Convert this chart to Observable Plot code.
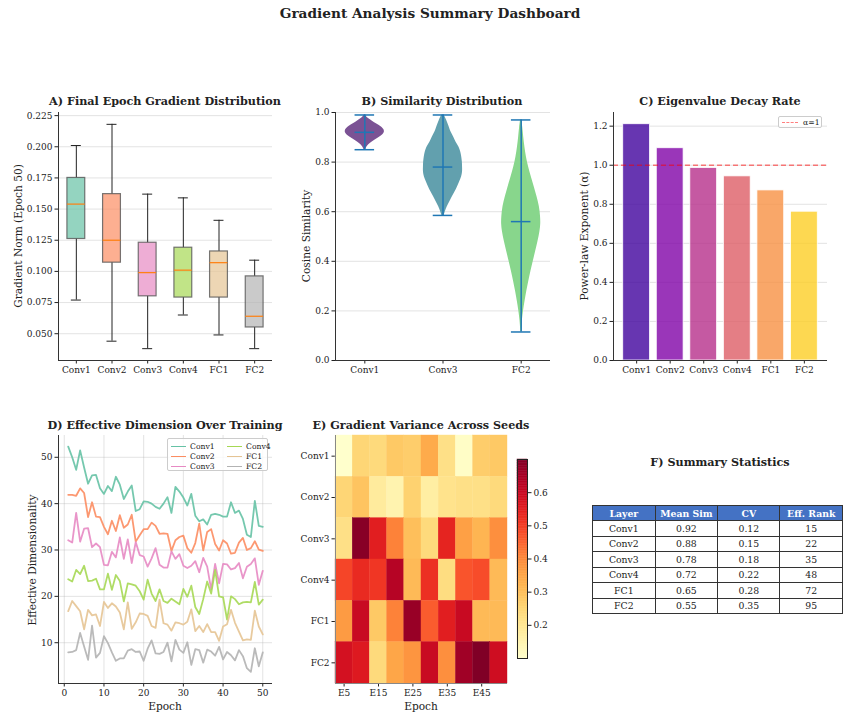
<!DOCTYPE html>
<html><head><meta charset="utf-8">
<script src="https://cdn.jsdelivr.net/npm/d3@7"></script>
<script src="https://cdn.jsdelivr.net/npm/@observablehq/plot@0.6"></script>
<style>
body{margin:0;background:#fff;overflow:hidden}
#fig{position:relative;width:843px;height:713px;overflow:hidden;font-family:"DejaVu Serif",serif;color:#222;background:#fff}
#fig svg{position:absolute;overflow:visible}
.lbl{position:absolute;white-space:nowrap;line-height:1;transform:translate(-50%,-50%)}
.rot{transform:translate(-50%,-50%) rotate(-90deg)}
.ttl{font-weight:bold;font-size:11.2px}
.axl{font-size:10.6px}
.legend{position:absolute;background:rgba(255,255,255,0.8);border:1px solid #ccc;border-radius:2px;font-size:7.7px;box-sizing:border-box}
.li{position:absolute;white-space:nowrap;line-height:1}
.sw{position:absolute;height:0}
table{position:absolute;border-collapse:collapse;font-size:9.3px;table-layout:fixed}
td,th{border:1.2px solid #333;width:64px;height:15.5px;padding:0;text-align:center;box-sizing:border-box}
th{background:#4472c4;color:#fff;font-weight:bold;height:15px}
</style></head><body><div id="fig"></div>
<script>
// ---------- data ----------
const layers = ["Conv1","Conv2","Conv3","Conv4","FC1","FC2"];
// A) final epoch gradient distribution (box stats)
const boxLow  = [0.077,0.044,0.038,0.065,0.049,0.038];
const boxQ1   = [0.126,0.107,0.080,0.079,0.079,0.055];
const boxMed  = [0.154,0.125,0.099,0.101,0.107,0.064];
const boxQ3   = [0.175,0.162,0.123,0.119,0.116,0.096];
const boxHigh = [0.201,0.218,0.162,0.159,0.141,0.109];
const gradTicks = [0.050,0.075,0.100,0.125,0.150,0.175,0.200,0.225];
// B) similarity violins
const violinLayers = ["Conv1","Conv3","FC2"];
const violinMin  = [0.85,0.585,0.115];
const violinMax  = [0.99,0.99,0.97];
const violinMean = [0.92,0.78,0.56];
const conv1Levels = [0.99,0.98,0.97,0.96,0.95,0.94,0.93,0.92,0.91,0.90,0.89,0.88,0.87,0.86,0.85];
const conv1Widths = [0.03,0.12,0.30,0.48,0.70,0.88,0.98,1.00,0.92,0.75,0.55,0.36,0.20,0.10,0.04];
const conv3Levels = [0.99,0.97,0.95,0.92,0.90,0.88,0.86,0.84,0.82,0.80,0.78,0.76,0.74,0.72,0.70,0.68,0.66,0.64,0.62,0.60,0.585];
const conv3Widths = [0.06,0.18,0.28,0.42,0.55,0.67,0.82,0.91,0.96,0.99,1.00,1.00,0.95,0.85,0.74,0.62,0.48,0.35,0.22,0.12,0.06];
const fc2Levels = [0.97,0.94,0.90,0.86,0.82,0.78,0.74,0.70,0.66,0.62,0.58,0.55,0.52,0.48,0.44,0.40,0.36,0.32,0.28,0.24,0.20,0.16,0.13,0.115];
const fc2Widths = [0.03,0.08,0.13,0.19,0.27,0.38,0.52,0.67,0.81,0.93,0.99,1.00,0.96,0.86,0.74,0.62,0.50,0.39,0.29,0.20,0.12,0.06,0.03,0.02];
const simTicks = [0.0,0.2,0.4,0.6,0.8,1.0];
// C) eigenvalue decay
const alphaValues = [1.21,1.087,0.986,0.943,0.871,0.762];
const alphaRef = [1.0];
const alphaTicks = [0.0,0.2,0.4,0.6,0.8,1.0,1.2];
// D) effective dimension over training
const epochs = d3.range(1, 51);
const conv1D = [52.3,50.0,47.3,51.5,47.8,44.3,46.1,46.2,43.3,42.1,43.8,42.7,45.8,44.1,41.0,42.6,43.9,38.4,38.8,40.5,40.4,40.0,39.3,38.9,40.0,41.4,38.0,43.6,42.6,41.3,39.6,42.1,37.4,36.2,36.6,35.5,37.6,37.8,37.6,37.2,37.2,40.3,38.0,38.5,36.7,33.3,32.8,40.6,35.2,35.0];
const conv2D = [41.9,41.9,41.7,43.3,42.3,37.1,40.3,37.2,37.1,35.0,33.4,36.3,34.1,37.5,34.8,35.5,37.6,31.8,33.2,34.5,34.5,35.9,35.2,33.5,33.6,33.5,29.8,32.1,32.8,33.1,30.4,29.4,31.5,35.7,29.9,33.9,34.5,31.3,29.9,32.1,31.4,29.2,29.4,31.6,32.6,30.0,30.4,31.9,30.1,29.8];
const conv3D = [32.1,31.6,38.0,31.8,34.6,34.7,30.6,31.4,30.6,26.8,26.7,29.6,28.4,32.7,28.1,32.3,27.2,31.7,28.9,28.6,26.4,28.2,30.4,26.8,26.2,26.2,29.7,28.1,29.1,26.6,26.1,26.6,27.6,25.2,28.3,26.4,21.5,27.0,22.8,27.0,26.9,25.8,26.1,27.2,23.9,26.4,27.0,28.2,22.5,25.5];
const conv4D = [23.7,23.2,25.7,24.8,26.6,23.3,23.4,23.8,21.5,21.5,24.9,21.4,24.6,23.3,18.9,22.8,22.6,22.3,21.1,19.3,23.6,20.6,19.0,21.5,19.0,18.6,19.5,18.9,18.3,21.6,19.9,22.3,17.7,16.2,19.4,23.2,20.6,25.7,20.0,19.8,15.0,20.0,19.4,18.3,18.7,18.8,18.7,23.1,18.2,19.3];
const fc1D = [16.8,19.0,17.9,16.8,12.9,17.1,15.9,16.1,13.6,18.8,17.5,18.5,17.8,16.5,12.9,18.7,13.0,14.4,16.3,16.2,15.8,13.6,13.2,19.3,14.2,13.9,12.6,14.4,14.2,13.9,14.5,17.2,12.5,13.6,12.3,14.0,12.3,12.3,10.4,13.5,14.0,17.1,14.3,12.4,10.5,10.7,10.6,16.9,13.5,11.8];
const fc2D = [7.9,8.0,8.4,12.1,9.2,6.3,13.7,6.8,7.8,11.4,9.9,7.9,6.1,6.6,6.6,8.3,8.6,8.0,8.1,6.1,8.7,10.5,7.7,7.6,8.0,10.0,6.0,10.6,8.5,7.8,10.1,5.2,8.6,8.4,5.7,8.5,8.1,7.2,9.1,6.4,8.0,7.3,6.2,8.4,7.1,4.5,3.7,8.8,4.9,7.9];
const epochTicks = [0,10,20,30,40,50];
const dimTicks = [10,20,30,40,50];
// E) gradient variance heatmap
const heatColumns = ["E5","E10","E15","E20","E25","E30","E35","E40","E45","E50"];
const heatTickLabels = ["E5","E15","E25","E35","E45"];
const conv1H = [0.10,0.25,0.24,0.28,0.27,0.34,0.22,0.11,0.27,0.28];
const conv2H = [0.25,0.29,0.18,0.15,0.26,0.17,0.21,0.22,0.22,0.24];
const conv3H = [0.22,0.69,0.55,0.41,0.30,0.24,0.54,0.36,0.32,0.39];
const conv4H = [0.49,0.53,0.51,0.63,0.31,0.52,0.23,0.47,0.48,0.31];
const fc1H   = [0.37,0.60,0.28,0.41,0.67,0.46,0.55,0.60,0.31,0.31];
const fc2H   = [0.58,0.56,0.24,0.35,0.38,0.60,0.39,0.66,0.70,0.59];
const cbarTicks = [0.2,0.3,0.4,0.5,0.6];
// F) summary table
const tableHeader = ["Layer","Mean Sim","CV","Eff. Rank"];
const meanSim = [0.92,0.88,0.78,0.72,0.65,0.55];
const cvValues = [0.12,0.15,0.18,0.22,0.28,0.35];
const effRank = [15,22,35,48,72,95];

// ---------- helpers ----------
const fig = document.getElementById("fig");
const base = {fontFamily:"DejaVu Serif", fontSize:"9px", color:"#222", background:"transparent"};
const gridC = {stroke:"#b0b0b0", strokeOpacity:0.35};
const spine = {stroke:"#333", strokeWidth:1};
function put(el, left, top){ el.style.left = left+"px"; el.style.top = top+"px"; fig.appendChild(el); return el; }
function label(text, x, y, cls){ const d=document.createElement("div"); d.className="lbl "+cls; d.textContent=text; return put(d,x,y); }
const set2 = ["#66c2a5","#fc8d62","#e78ac3","#a6d854","#e5c494","#b3b3b3"];

label("Gradient Analysis Summary Dashboard", 430, 13.5, "").style.cssText += "font-weight:bold;font-size:13.7px;";

// ---------- A ----------
const boxData = layers.map((l,i)=>({pos:i+1, lo:boxLow[i], q1:boxQ1[i], med:boxMed[i], q3:boxQ3[i], hi:boxHigh[i], c:set2[i]}));
const aY = [0.0285,0.2275], aX=[0.5,6.5];
put(Plot.plot({
  width:290, height:290, marginLeft:58, marginRight:18, marginTop:12, marginBottom:30, style:base,
  x:{domain:aX, ticks:[1,2,3,4,5,6], tickFormat:i=>layers[i-1], tickSize:3.5, tickPadding:2.5, label:null},
  y:{domain:aY, ticks:gradTicks, tickFormat:d3.format(".3f"), tickSize:3.5, tickPadding:2.5, label:null},
  color:{type:"identity"},
  marks:[
    Plot.gridY(gradTicks, gridC),
    Plot.ruleX(boxData,{x:"pos", y1:"lo", y2:"q1", stroke:"#222", strokeWidth:1}),
    Plot.ruleX(boxData,{x:"pos", y1:"q3", y2:"hi", stroke:"#222", strokeWidth:1}),
    Plot.ruleY(boxData,{y:"lo", x1:d=>d.pos-0.14, x2:d=>d.pos+0.14, stroke:"#222"}),
    Plot.ruleY(boxData,{y:"hi", x1:d=>d.pos-0.14, x2:d=>d.pos+0.14, stroke:"#222"}),
    Plot.rect(boxData,{x1:d=>d.pos-0.25, x2:d=>d.pos+0.25, y1:"q1", y2:"q3", fill:"c", fillOpacity:0.7, stroke:"#555", strokeOpacity:0.8, strokeWidth:1.2}),
    Plot.ruleY(boxData,{y:"med", x1:d=>d.pos-0.25, x2:d=>d.pos+0.25, stroke:"#ff7f0e", strokeWidth:1.2}),
    Plot.ruleX([aX[0]], spine), Plot.ruleY([aY[0]], spine)
  ]
}), 0, 100);
label("A) Final Epoch Gradient Distribution", 165, 102, "ttl");
label("Gradient Norm (Epoch 50)", 18, 236, "axl rot");

// ---------- B ----------
const violinShapes = [[conv1Levels,conv1Widths],[conv3Levels,conv3Widths],[fc2Levels,fc2Widths]];
const violinFill = ["#7b5294","#62a0ae","#88d68c"];
const bX=[0.625,3.375];
const violinMarks = violinShapes.map(([lv,wd],k)=>{
  const rows = lv.map((v,i)=>({v, w:wd[i]}));
  return Plot.areaX(rows,{y:"v", x1:d=>k+1-d.w*0.25, x2:d=>k+1+d.w*0.25, fill:violinFill[k], curve:"catmull-rom"});
});
const vStats = violinLayers.map((l,i)=>({pos:i+1, mn:violinMin[i], mx:violinMax[i], mean:violinMean[i]}));
const vl = {stroke:"#1f77b4", strokeWidth:1.5};
put(Plot.plot({
  width:270, height:290, marginLeft:45, marginRight:10, marginTop:12, marginBottom:30, style:base,
  x:{domain:bX, ticks:[1,2,3], tickFormat:i=>violinLayers[i-1], tickSize:3.5, tickPadding:2.5, label:null},
  y:{domain:[0,1], ticks:simTicks, tickFormat:d3.format(".1f"), tickSize:3.5, tickPadding:2.5, label:null},
  marks:[
    Plot.gridY(simTicks, gridC),
    ...violinMarks,
    Plot.ruleX(vStats,{x:"pos", y1:"mn", y2:"mx", ...vl}),
    Plot.ruleY(vStats,{y:"mn", x1:d=>d.pos-0.125, x2:d=>d.pos+0.125, ...vl}),
    Plot.ruleY(vStats,{y:"mx", x1:d=>d.pos-0.125, x2:d=>d.pos+0.125, ...vl}),
    Plot.ruleY(vStats,{y:"mean", x1:d=>d.pos-0.125, x2:d=>d.pos+0.125, ...vl}),
    Plot.ruleX([bX[0]], spine), Plot.ruleY([0], spine)
  ]
}), 290, 100);
label("B) Similarity Distribution", 442, 102, "ttl");
label("Cosine Similarity", 306, 236, "axl rot");

// ---------- C ----------
const plasmaT = [0.1,0.26,0.42,0.58,0.74,0.9];
const barData = layers.map((l,i)=>({pos:i, v:alphaValues[i], c:d3.interpolatePlasma(plasmaT[i])}));
const cX=[-0.69,5.69], cY=[0,1.27];
put(Plot.plot({
  width:283, height:290, marginLeft:53, marginRight:16, marginTop:12, marginBottom:30, style:base,
  x:{domain:cX, ticks:[0,1,2,3,4,5], tickFormat:i=>layers[i], tickSize:3.5, tickPadding:2.5, label:null},
  y:{domain:cY, ticks:alphaTicks, tickFormat:d3.format(".1f"), tickSize:3.5, tickPadding:2.5, label:null},
  color:{type:"identity"},
  marks:[
    Plot.gridY(alphaTicks, gridC),
    Plot.rect(barData,{x1:d=>d.pos-0.4, x2:d=>d.pos+0.4, y1:0, y2:"v", fill:"c", fillOpacity:0.8, stroke:"white", strokeWidth:0.8}),
    Plot.ruleY(alphaRef,{stroke:"red", strokeOpacity:0.5, strokeWidth:1.5, strokeDasharray:"5,3"}),
    Plot.ruleX([cX[0]], spine), Plot.ruleY([0], spine)
  ]
}), 560, 100);
label("C) Eigenvalue Decay Rate", 720, 102, "ttl");
label("Power-law Exponent (α)", 584, 236, "axl rot");
{
  const lg = document.createElement("div"); lg.className="legend";
  lg.style.width="44px"; lg.style.height="12px";
  lg.innerHTML = '<div class="sw" style="left:3px;top:5px;width:16px;border-top:1.5px dashed rgba(255,0,0,0.5)"></div><div class="li" style="left:24px;top:2px">α=1</div>';
  put(lg, 778, 116);
}

// ---------- D ----------
const seriesD = [conv1D,conv2D,conv3D,conv4D,fc1D,fc2D];
const lineRows = seriesD.flatMap((s,k)=>s.map((v,i)=>({layer:layers[k], epoch:epochs[i], v, c:set2[k]})));
const dX=[-1.45,52.45], dY=[1.2,54.7];
put(Plot.plot({
  width:290, height:290, marginLeft:58, marginRight:18, marginTop:15, marginBottom:27, style:base,
  x:{domain:dX, ticks:epochTicks, tickSize:3.5, tickPadding:2.5, label:null},
  y:{domain:dY, ticks:dimTicks, tickSize:3.5, tickPadding:2.5, label:null},
  color:{type:"identity"},
  marks:[
    Plot.gridX(epochTicks, gridC), Plot.gridY(dimTicks, gridC),
    Plot.line(lineRows,{x:"epoch", y:"v", z:"layer", stroke:"c", strokeWidth:1.8, strokeOpacity:0.9}),
    Plot.ruleX([dX[0]], spine), Plot.ruleY([dY[0]], spine)
  ]
}), 0, 420);
label("D) Effective Dimension Over Training", 165, 426, "ttl");
label("Effective Dimensionality", 32, 560, "axl rot");
label("Epoch", 165, 706, "axl");
{
  const lg = document.createElement("div"); lg.className="legend";
  lg.style.width="101px"; lg.style.height="33px";
  let h="";
  layers.forEach((l,i)=>{
    const col = Math.floor(i/3), row = i%3;
    const lx = col? 59:3, ty = 3+row*10;
    h += `<div class="sw" style="left:${lx}px;top:${ty+4}px;width:15px;border-top:1.8px solid ${set2[i]}"></div><div class="li" style="left:${lx+19}px;top:${ty+0.5}px">${l}</div>`;
  });
  lg.innerHTML = h;
  put(lg, 167, 438);
}

// ---------- E ----------
const heatRows = [conv1H,conv2H,conv3H,conv4H,fc1H,fc2H];
const cells = heatRows.flatMap((row,r)=>row.map((v,c)=>({r,c,v})));
const vExt = d3.extent(cells, d=>d.v);
put(Plot.plot({
  width:230, height:290, marginLeft:45, marginRight:13, marginTop:15, marginBottom:27, style:base,
  x:{domain:[0,10], ticks:[0.5,2.5,4.5,6.5,8.5], tickFormat:(t,i)=>heatTickLabels[i], tickSize:3.5, tickPadding:2.5, label:null},
  y:{domain:[6,0], ticks:[0.5,1.5,2.5,3.5,4.5,5.5], tickFormat:(t,i)=>layers[i], tickSize:3.5, tickPadding:2.5, label:null},
  color:{type:"linear", scheme:"YlOrRd", domain:vExt},
  marks:[
    Plot.rect(cells,{x1:"c", x2:d=>d.c+1, y1:"r", y2:d=>d.r+1, fill:"v", stroke:"v", strokeWidth:0.4}),
    Plot.ruleX([0],{stroke:"#888", strokeWidth:1}), Plot.ruleY([6],{stroke:"#888", strokeWidth:1})
  ]
}), 290, 420);
label("E) Gradient Variance Across Seeds", 421, 426, "ttl");
label("Epoch", 421, 706, "axl");
// colorbar
const nRamp = 120;
const ramp = d3.range(nRamp).map(i=>({a: vExt[0]+(vExt[1]-vExt[0])*i/nRamp, b: vExt[0]+(vExt[1]-vExt[0])*(i+1)/nRamp}));
put(Plot.plot({
  width:50, height:220, marginLeft:7, marginRight:33, marginTop:9, marginBottom:12, style:base,
  x:{domain:[0,1], axis:null},
  y:{domain:vExt, axis:"right", ticks:cbarTicks, tickFormat:d3.format(".1f"), tickSize:3.5, tickPadding:2.5, label:null},
  color:{type:"linear", scheme:"YlOrRd", domain:vExt},
  marks:[
    Plot.rect(ramp,{x1:0, x2:1, y1:"a", y2:"b", fill:d=>(d.a+d.b)/2, stroke:d=>(d.a+d.b)/2, strokeWidth:0.5}),
    Plot.frame({stroke:"#222", strokeWidth:1})
  ]
}), 510, 450);

// ---------- F ----------
label("F) Summary Statistics", 720, 463, "ttl");
{
  const t = document.createElement("table");
  let h = "<tr>"+tableHeader.map(s=>`<th>${s}</th>`).join("")+"</tr>";
  layers.forEach((l,i)=>{
    h += `<tr><td>${l}</td><td>${meanSim[i].toFixed(2)}</td><td>${cvValues[i].toFixed(2)}</td><td>${effRank[i]}</td></tr>`;
  });
  t.innerHTML = h;
  put(t, 592, 505);
}
</script></body></html>
